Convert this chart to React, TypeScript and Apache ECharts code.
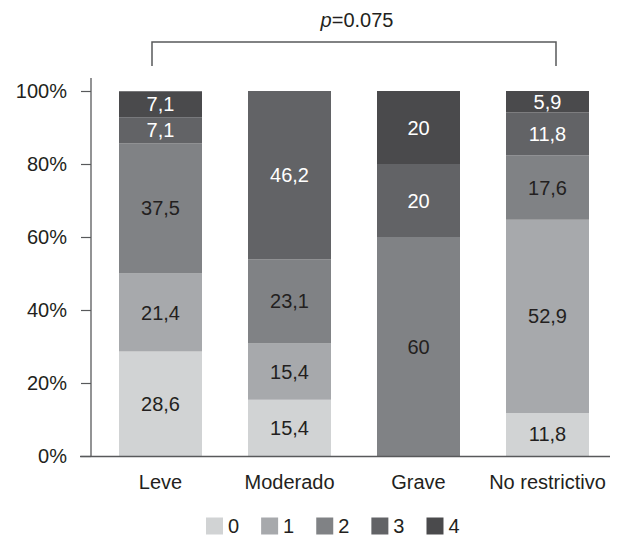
import React, { useEffect, useRef } from "react";
import * as echarts from "echarts";

const categories = ["Leve", "Moderado", "Grave", "No restrictivo"];
const seriesNames = ["0", "1", "2", "3", "4"];
// values per series (stack order bottom -> top), one per category
const values0 = [28.6, 15.4, 0, 11.8];
const values1 = [21.4, 15.4, 0, 52.9];
const values2 = [35.7, 23.1, 60, 17.6];
const values3 = [7.1, 46.2, 20, 11.8];
const values4 = [7.1, 0, 20, 5.9];
// printed labels as in the figure
const labels0 = ["28,6", "15,4", "", "11,8"];
const labels1 = ["21,4", "15,4", "", "52,9"];
const labels2 = ["37,5", "23,1", "60", "17,6"];
const labels3 = ["7,1", "46,2", "20", "11,8"];
const labels4 = ["7,1", "", "20", "5,9"];
const yTicks = [0, 20, 40, 60, 80, 100];
const pText = "0.075";

const colors = ["#d1d3d4", "#a7a9ac", "#808285", "#626366", "#4a4a4c"];
const labelColors = ["#231f20", "#231f20", "#231f20", "#ffffff", "#ffffff"];
const FONT = "'Liberation Sans', Arial, Helvetica, sans-serif";
const FS = 20;

export default function App() {
  const ref = useRef<HTMLDivElement>(null);
  useEffect(() => {
    if (!ref.current) return;
    const chart = echarts.init(ref.current, null, { renderer: "svg" });
    const allValues = [values0, values1, values2, values3, values4];
    const allLabels = [labels0, labels1, labels2, labels3, labels4];
    const series = seriesNames.map((name, si) => ({
      name,
      type: "bar",
      stack: "total",
      barWidth: 83,
      itemStyle: { color: colors[si] },
      label: {
        show: true,
        position: "inside",
        color: labelColors[si],
        fontSize: FS,
        fontFamily: FONT,
        formatter: (p: any) => allLabels[si][p.dataIndex],
      },
      data: allValues[si],
    }));
    chart.setOption({
      animation: false,
      textStyle: { fontFamily: FONT },
      grid: { left: 96, right: 14, top: 91, bottom: 81 },
      legend: {
        left: 206,
        top: 516,
        itemWidth: 17,
        itemHeight: 17,
        itemGap: 22,
        icon: "rect",
        padding: [0, 0, 0, 0],
        textStyle: { fontSize: FS, color: "#231f20", fontFamily: FONT },
        data: seriesNames,
      },
      xAxis: {
        type: "category",
        data: categories,
        axisLine: { show: false },
        axisTick: { show: false },
        axisLabel: { fontSize: FS, color: "#231f20", margin: 16, fontFamily: FONT, interval: 0, hideOverlap: false },
      },
      yAxis: {
        type: "value",
        min: 0,
        max: 100,
        interval: 20,
        offset: 5,
        splitLine: { show: false },
        axisLine: { show: false },
        axisTick: { show: true, length: 10, lineStyle: { color: "#58595b", width: 1.2 } },
        axisLabel: {
          fontSize: FS,
          color: "#231f20",
          margin: 24,
          fontFamily: FONT,
          formatter: (v: number) => (yTicks.includes(v) ? v + "%" : ""),
        },
      },
      graphic: [
        { type: "line", shape: { x1: 91, y1: 78, x2: 91, y2: 456 }, style: { stroke: "#58595b", lineWidth: 1.3 }, z: 10 },
        { type: "line", shape: { x1: 80, y1: 456.5, x2: 610, y2: 456.5 }, style: { stroke: "#58595b", lineWidth: 1.5 }, z: 10 },
        {
          type: "polyline",
          shape: { points: [[152, 66], [152, 42], [556, 42], [556, 66]] },
          style: { stroke: "#58595b", lineWidth: 1.5, fill: null },
        },
        {
          type: "text",
          x: 357,
          y: 20,
          style: {
            text: "{i|p}=" + pText,
            rich: { i: { fontStyle: "italic", fontSize: FS, fontFamily: FONT, fill: "#231f20" } },
            fontSize: FS,
            fontFamily: FONT,
            fill: "#231f20",
            align: "center",
            verticalAlign: "middle",
          },
        },
      ],
      series,
    });
    return () => chart.dispose();
  }, []);
  return (
    <div
      ref={ref}
      style={{ position: "fixed", left: 0, top: 0, width: 626, height: 537, background: "#fff" }}
    />
  );
}
